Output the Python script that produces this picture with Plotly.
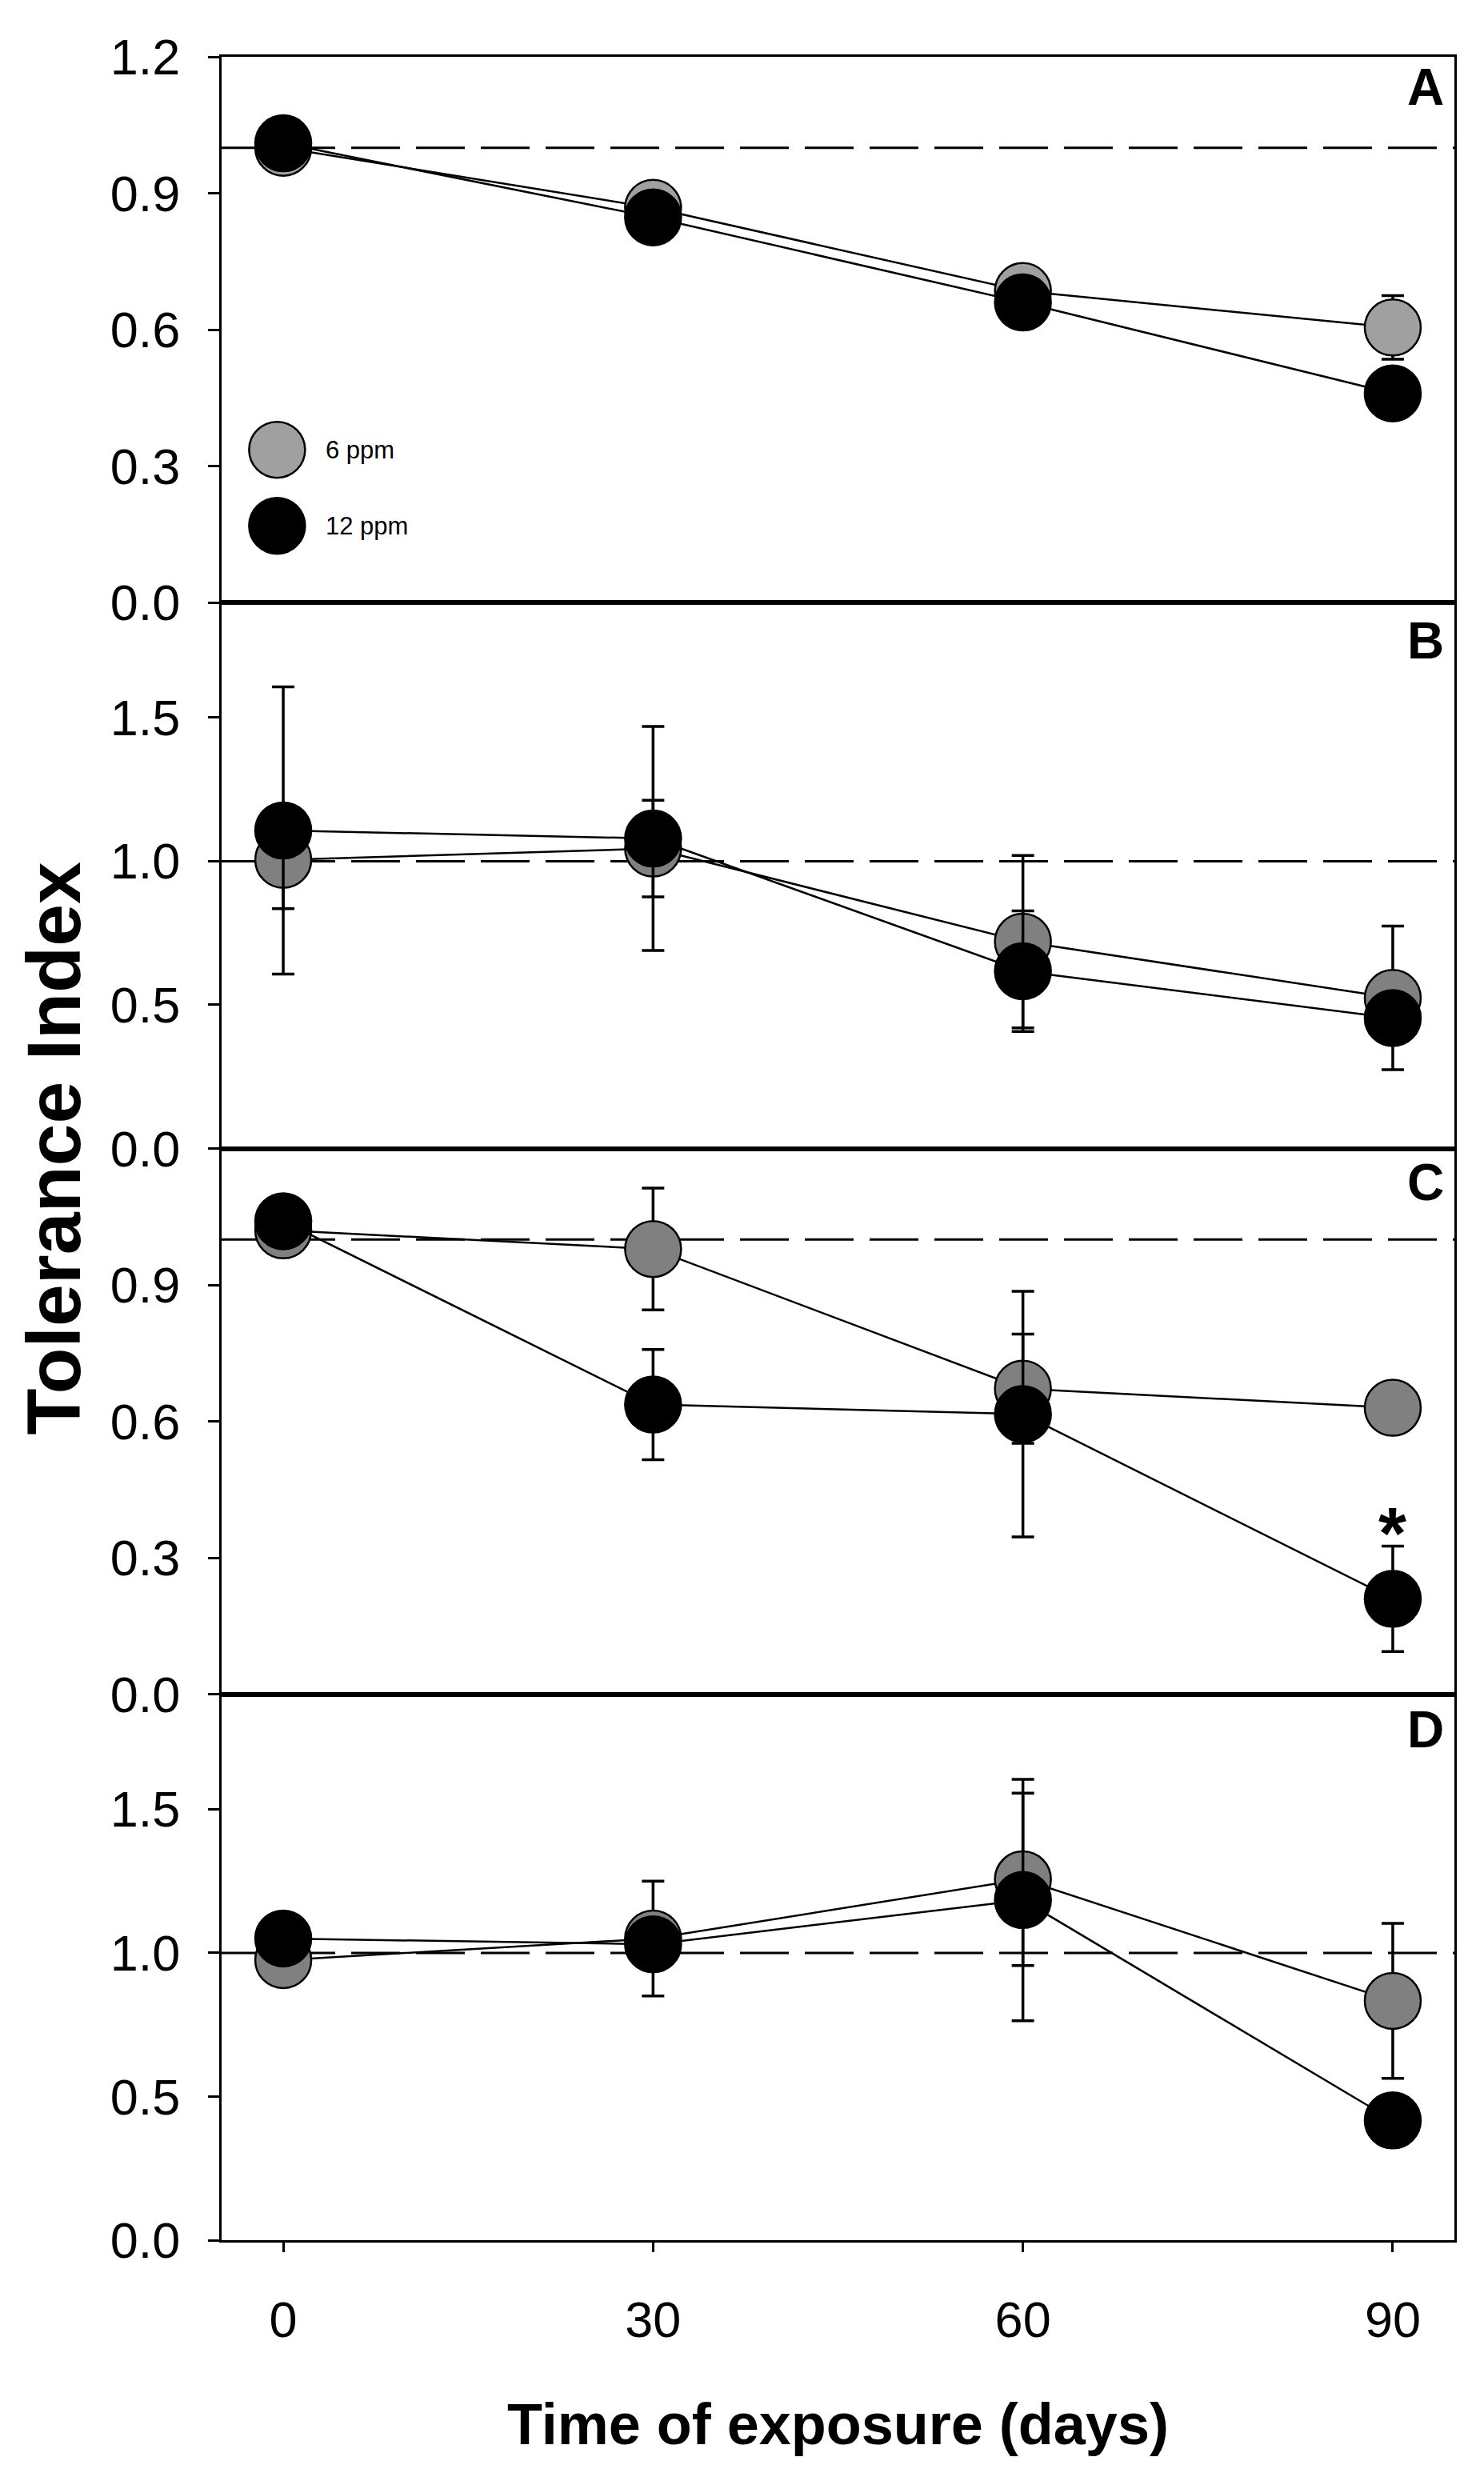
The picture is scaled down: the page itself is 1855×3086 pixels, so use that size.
import plotly.graph_objects as go
from plotly.subplots import make_subplots

# ---------------- data ----------------
days = [0, 30, 60, 90]
day_labels = ["0", "30", "60", "90"]

panel_letters = ["A", "B", "C", "D"]

A_6ppm = [1.00, 0.868, 0.685, 0.605]
A_6ppm_err = [0.0, 0.0, 0.0, 0.07]
A_12ppm = [1.01, 0.847, 0.66, 0.46]
A_12ppm_err = [0.0, 0.0, 0.0, 0.0]

B_6ppm = [1.005, 1.044, 0.72, 0.524]
B_6ppm_err = [0.17, 0.168, 0.30, 0.25]
B_12ppm = [1.107, 1.079, 0.617, 0.454]
B_12ppm_err = [0.50, 0.39, 0.21, 0.05]

C_6ppm = [1.02, 0.979, 0.672, 0.63]
C_6ppm_err = [0.0, 0.134, 0.12, 0.0]
C_12ppm = [1.04, 0.637, 0.616, 0.21]
C_12ppm_err = [0.0, 0.121, 0.27, 0.116]

D_6ppm = [0.975, 1.05, 1.256, 0.833]
D_6ppm_err = [0.0, 0.20, 0.30, 0.27]
D_12ppm = [1.05, 1.03, 1.184, 0.417]
D_12ppm_err = [0.0, 0.08, 0.42, 0.0]

y_ranges = [[0, 1.2], [0, 1.9], [0, 1.2], [0, 1.9]]
y_ticks = [[0, 0.3, 0.6, 0.9, 1.2], [0, 0.5, 1.0, 1.5], [0, 0.3, 0.6, 0.9], [0, 0.5, 1.0, 1.5]]
gray_colors = ["#a0a0a0", "#808080", "#808080", "#808080"]

reference_level = 1.0
legend_names = ["6 ppm", "12 ppm"]
legend_values = [0.336, 0.169]  # legend key heights in panel A
star_day = 90
star_value = 0.385

six = [A_6ppm, B_6ppm, C_6ppm, D_6ppm]
six_err = [A_6ppm_err, B_6ppm_err, C_6ppm_err, D_6ppm_err]
twelve = [A_12ppm, B_12ppm, C_12ppm, D_12ppm]
twelve_err = [A_12ppm_err, B_12ppm_err, C_12ppm_err, D_12ppm_err]

# ---------------- figure ----------------
FONT = "Liberation Sans, Arial, sans-serif"
W, H = 1855, 3086
ML, MR, MT, MB = 269, 45, 63, 294
TICKFONT = 63

fig = make_subplots(rows=4, cols=1, vertical_spacing=0)

MSIZE = 70
for i in range(4):
    r = i + 1
    fig.add_trace(go.Scatter(
        x=days, y=six[i], mode="lines+markers",
        line=dict(color="black", width=2.5),
        marker=dict(size=MSIZE, color=gray_colors[i], line=dict(color="black", width=2.5)),
        error_y=dict(type="data", array=six_err[i], visible=True, color="black",
                     thickness=3.5, width=14),
        showlegend=False, name=legend_names[0]), row=r, col=1)
    fig.add_trace(go.Scatter(
        x=days, y=twelve[i], mode="lines+markers",
        line=dict(color="black", width=2.5),
        marker=dict(size=MSIZE, color="black", line=dict(color="black", width=2.5)),
        error_y=dict(type="data", array=twelve_err[i], visible=True, color="black",
                     thickness=3.5, width=14),
        showlegend=False, name=legend_names[1]), row=r, col=1)

    fig.update_yaxes(row=r, col=1, range=y_ranges[i], tickvals=y_ticks[i], tickformat=".1f",
                     ticks="outside", ticklen=14, tickwidth=3, tickcolor="black",
                     showline=True, mirror=True, linecolor="black", linewidth=3,
                     showgrid=False, zeroline=False, ticklabelstandoff=22,
                     tickfont=dict(family=FONT, size=TICKFONT, color="black"))
    last = (r == 4)
    fig.update_xaxes(row=r, col=1, range=[-5, 95], tickvals=days, ticktext=day_labels,
                     ticks="outside" if last else "", ticklen=12, tickwidth=3, tickcolor="black",
                     showticklabels=last, showline=True, mirror=True, linecolor="black",
                     linewidth=3, showgrid=False, zeroline=False, ticklabelstandoff=30,
                     tickfont=dict(family=FONT, size=TICKFONT, color="black"))

    sfx = "" if r == 1 else str(r)
    fig.add_shape(type="line", xref=f"x{sfx} domain", yref=f"y{sfx}", x0=0, x1=1,
                  y0=reference_level, y1=reference_level, layer="below",
                  line=dict(color="black", width=3, dash="61px,20px"))
    fig.add_annotation(xref=f"x{sfx} domain", yref=f"y{sfx} domain", x=0.993, y=1.0,
                       xanchor="right", yanchor="top", showarrow=False,
                       yshift=[0, -10, -4, -6][i],
                       text=f"<b>{panel_letters[i]}</b>",
                       font=dict(family=FONT, size=64, color="black"))

# legend keys (panel A)
for k, (nm, col) in enumerate(zip(legend_names, [gray_colors[0], "black"])):
    fig.add_shape(type="circle", xref="x", yref="y", xsizemode="pixel", ysizemode="pixel",
                  xanchor=-0.5, yanchor=legend_values[k], x0=-35, x1=35, y0=-35, y1=35,
                  fillcolor=col, line=dict(color="black", width=2.5))
    fig.add_annotation(xref="x", yref="y", x=3.3, y=legend_values[k], xanchor="left",
                       yanchor="middle", showarrow=False, text=nm,
                       font=dict(family=FONT, size=31, color="black"))

# significance mark
fig.add_annotation(xref="x3", yref="y3", x=star_day, y=star_value, yshift=-18,
                   showarrow=False, text="<b>*</b>",
                   font=dict(family=FONT, size=90, color="black"))

# axis titles
fig.add_annotation(xref="paper", yref="paper", x=0.5, y=-0.0843, xanchor="center",
                   yanchor="middle", showarrow=False, text="<b>Time of exposure (days)</b>",
                   font=dict(family=FONT, size=72, color="black"))
fig.add_annotation(xref="paper", yref="paper", x=-0.1363, y=0.5, xanchor="center",
                   yanchor="middle", showarrow=False, textangle=-90,
                   text="<b>Tolerance Index</b>",
                   font=dict(family=FONT, size=95, color="black"))

fig.update_layout(width=W, height=H, autosize=False,
                  margin=dict(l=ML, r=MR, t=MT, b=MB, pad=0),
                  paper_bgcolor="white", plot_bgcolor="white",
                  font=dict(family=FONT, color="black"))

fig.write_html("out.html")
